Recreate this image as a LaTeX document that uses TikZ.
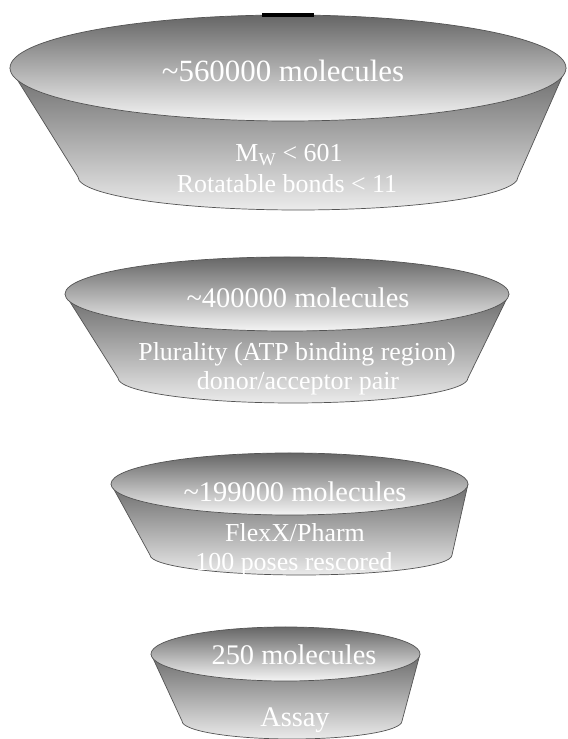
\documentclass[tikz,border=0pt]{standalone}
\usepackage{fontspec}
\setmainfont{Liberation Serif}
\definecolor{rimc}{gray}{0.33}
\definecolor{intop}{gray}{0.40}
\definecolor{inbot}{gray}{0.96}
\definecolor{sidetop}{gray}{0.42}
\definecolor{sidebot}{gray}{0.93}
\tikzset{
  lbl/.style={text=white, anchor=base, inner sep=0pt, font=\fontsize{26}{30}\selectfont},
  lblmid/.style={lbl, font=\fontsize{28.5}{32}\selectfont},
  lblbig/.style={lbl, font=\fontsize{31}{34}\selectfont},
  rim/.style={draw=rimc, line width=0.7bp},
}
% #1 cx top, #2 cy top (pixel, y down), #3 rx, #4 ry, #5 cx bottom, #6 cy bottom, #7 rx, #8 ry
\newcommand\bowlshape[8]{%
  \begin{scope}
    \clip ({#1-#3},{739-#2}) -- ({#5-#7},{739-#6}) arc[start angle=180,end angle=360,x radius=#7,y radius=#8]
      -- ({#1+#3},{739-#2}) arc[start angle=0,end angle=180,x radius=#3,y radius=#4] -- cycle;
    \shade[top color=sidetop, bottom color=sidebot] ({#1-#3-5},{739-#2}) rectangle ({#1+#3+5},{739-#6-#8-2});
  \end{scope}
  \draw[rim] ({#1-#3},{739-#2}) -- ({#5-#7},{739-#6}) arc[start angle=180,end angle=360,x radius=#7,y radius=#8]
      -- ({#1+#3},{739-#2});
  \shadedraw[rim, top color=intop, bottom color=inbot] (#1,{739-#2}) ellipse[x radius=#3, y radius=#4];
}
\begin{document}
\begin{tikzpicture}[x=1bp,y=1bp]
\useasboundingbox (0,0) rectangle (568,739);
\fill[white] (0,0) rectangle (568,739);

\bowlshape{288}{68}{278}{53}{298}{177}{220}{33}
\fill[black] (262,{739-17}) rectangle (314,{739-13});
\bowlshape{287}{294}{222}{37}{293}{378}{175}{25}
\bowlshape{289.5}{484}{178.5}{31}{301}{555}{151}{20}
\bowlshape{285.5}{654}{134.5}{27}{292}{721}{110}{18}

\node[lblbig] (a1) at (283,{739-82}) {\textasciitilde560000 molecules};
\node[lbl] (a2) at (289,{739-162}) {M\textsubscript{W} < 601};
\node[lbl] (a3) at (287,{739-193}) {Rotatable bonds < 11};

\node[lblmid] (b1) at (298,{739-308}) {\textasciitilde400000 molecules};
\node[lbl] (b2) at (297,{739-361}) {Plurality (ATP binding region)};
\node[lbl] (b3) at (298,{739-390}) {donor/acceptor pair};

\node[lblmid] (c1) at (295,{739-502}) {\textasciitilde199000 molecules};
\node[lbl] (c2) at (295,{739-542}) {FlexX/Pharm};
\node[lbl] (c3) at (294,{739-571}) {100 poses rescored};

\node[lblmid] (d1) at (294,{739-665}) {250 molecules};
\node[lblmid] (d2) at (295,{739-727}) {Assay};
\end{tikzpicture}
\end{document}
